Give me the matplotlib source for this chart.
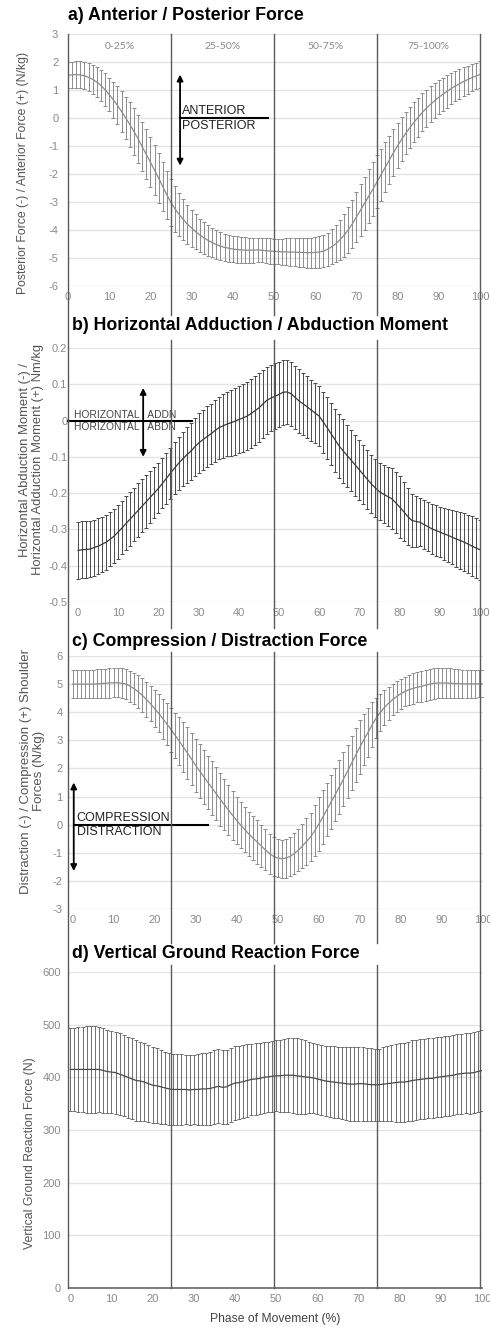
import matplotlib
matplotlib.use("Agg")
import matplotlib.pyplot as plt
from matplotlib.lines import Line2D
from matplotlib.transforms import blended_transform_factory

plt.rcParams['font.family'] = ['Liberation Sans', 'DejaVu Sans']
plt.rcParams['axes.unicode_minus'] = False

# phase of movement, 0..100 %
phase = list(range(101))
phase_bounds = [0, 25, 50, 75, 100]
phase_names = ['0-25%', '25-50%', '50-75%', '75-100%']
phase_centers = [12.5, 37.5, 62.5, 87.5]

# a) anterior / posterior force (N/kg)
ap_mean = [1.53, 1.54, 1.55, 1.54, 1.51, 1.45, 1.38, 1.28, 1.16, 1.01,
           0.84, 0.65, 0.45, 0.23, 0.00, -0.23, -0.48, -0.74, -1.02, -1.30,
           -1.58, -1.86, -2.15, -2.45, -2.75, -3.02, -3.25, -3.45, -3.63, -3.79,
           -3.93, -4.06, -4.18, -4.28, -4.37, -4.45, -4.52, -4.58, -4.62, -4.65,
           -4.68, -4.70, -4.71, -4.72, -4.72, -4.72, -4.71, -4.72, -4.74, -4.75,
           -4.76, -4.77, -4.78, -4.78, -4.79, -4.79, -4.80, -4.80, -4.81, -4.81,
           -4.80, -4.79, -4.75, -4.69, -4.60, -4.49, -4.35, -4.19, -4.00, -3.78,
           -3.54, -3.29, -3.04, -2.79, -2.54, -2.28, -2.02, -1.76, -1.50, -1.24,
           -0.99, -0.76, -0.54, -0.34, -0.15, 0.03, 0.20, 0.35, 0.49, 0.62,
           0.74, 0.85, 0.95, 1.05, 1.14, 1.22, 1.30, 1.37, 1.44, 1.50, 1.55]
ap_sd = [0.47, 0.47, 0.48, 0.48, 0.49, 0.50, 0.52, 0.54, 0.56, 0.58,
         0.60, 0.64, 0.68, 0.72, 0.76, 0.80, 0.83, 0.86, 0.88, 0.89,
         0.90, 0.90, 0.89, 0.88, 0.87, 0.85, 0.82, 0.78, 0.74, 0.70,
         0.66, 0.62, 0.59, 0.57, 0.55, 0.53, 0.51, 0.50, 0.49, 0.48,
         0.48, 0.47, 0.46, 0.46, 0.45, 0.45, 0.44, 0.44, 0.44, 0.45,
         0.45, 0.46, 0.47, 0.48, 0.49, 0.50, 0.51, 0.52, 0.53, 0.54,
         0.55, 0.56, 0.58, 0.60, 0.63, 0.67, 0.71, 0.76, 0.81, 0.86,
         0.90, 0.93, 0.95, 0.96, 0.96, 0.95, 0.93, 0.90, 0.87, 0.84,
         0.81, 0.78, 0.76, 0.74, 0.72, 0.70, 0.68, 0.66, 0.64, 0.62,
         0.60, 0.59, 0.58, 0.56, 0.55, 0.53, 0.52, 0.50, 0.49, 0.48, 0.47]

# b) horizontal adduction / abduction moment (Nm/kg)
ha_mean = [-0.358, -0.356, -0.355, -0.354, -0.350, -0.346, -0.341, -0.335, -0.327, -0.318,
           -0.307, -0.295, -0.283, -0.271, -0.259, -0.247, -0.235, -0.223, -0.211, -0.199,
           -0.187, -0.173, -0.159, -0.145, -0.131, -0.118, -0.106, -0.095, -0.085, -0.073,
           -0.062, -0.053, -0.045, -0.037, -0.028, -0.020, -0.015, -0.010, -0.006, -0.002,
           0.003, 0.007, 0.012, 0.019, 0.027, 0.035, 0.046, 0.056, 0.062, 0.067,
           0.072, 0.078, 0.079, 0.074, 0.064, 0.054, 0.046, 0.038, 0.029, 0.021,
           0.012, -0.004, -0.020, -0.037, -0.054, -0.071, -0.084, -0.097, -0.110, -0.123,
           -0.136, -0.149, -0.162, -0.175, -0.186, -0.196, -0.203, -0.209, -0.215, -0.226,
           -0.238, -0.251, -0.264, -0.275, -0.278, -0.280, -0.286, -0.292, -0.298, -0.303,
           -0.307, -0.312, -0.316, -0.321, -0.326, -0.330, -0.335, -0.340, -0.346, -0.351, -0.356]
ha_sd = [0.079, 0.079, 0.078, 0.078, 0.077, 0.077, 0.076, 0.076, 0.075, 0.075,
         0.074, 0.074, 0.074, 0.074, 0.074, 0.074, 0.073, 0.072, 0.071, 0.070,
         0.069, 0.069, 0.070, 0.070, 0.071, 0.072, 0.074, 0.076, 0.078, 0.080,
         0.082, 0.083, 0.084, 0.084, 0.085, 0.085, 0.087, 0.089, 0.091, 0.092,
         0.093, 0.094, 0.094, 0.095, 0.095, 0.095, 0.094, 0.093, 0.092, 0.091,
         0.090, 0.089, 0.088, 0.088, 0.087, 0.087, 0.086, 0.085, 0.084, 0.083,
         0.083, 0.084, 0.085, 0.086, 0.087, 0.088, 0.087, 0.086, 0.085, 0.084,
         0.083, 0.082, 0.081, 0.080, 0.079, 0.079, 0.080, 0.082, 0.083, 0.084,
         0.085, 0.082, 0.078, 0.074, 0.070, 0.067, 0.067, 0.068, 0.069, 0.070,
         0.070, 0.071, 0.073, 0.075, 0.077, 0.079, 0.080, 0.081, 0.082, 0.083, 0.083]

# c) compression / distraction force (N/kg)
cd_mean = [5.00, 5.00, 5.00, 5.00, 5.00, 5.00, 5.01, 5.02, 5.03, 5.04,
           5.05, 5.05, 5.03, 5.00, 4.93, 4.84, 4.73, 4.60, 4.46, 4.30,
           4.13, 3.96, 3.77, 3.58, 3.38, 3.18, 2.97, 2.76, 2.55, 2.33,
           2.11, 1.90, 1.70, 1.50, 1.30, 1.10, 0.90, 0.71, 0.52, 0.33,
           0.15, -0.02, -0.18, -0.34, -0.48, -0.62, -0.76, -0.90, -1.03, -1.13,
           -1.19, -1.21, -1.19, -1.13, -1.03, -0.91, -0.76, -0.60, -0.43, -0.22,
           0.02, 0.28, 0.54, 0.81, 1.07, 1.34, 1.62, 1.90, 2.19, 2.48,
           2.76, 3.03, 3.29, 3.55, 3.80, 4.00, 4.17, 4.32, 4.45, 4.56,
           4.66, 4.74, 4.80, 4.85, 4.89, 4.92, 4.96, 5.00, 5.03, 5.04,
           5.04, 5.04, 5.03, 5.02, 5.02, 5.01, 5.01, 5.01, 5.01, 5.01, 5.01]
cd_sd = [0.50, 0.50, 0.50, 0.50, 0.50, 0.50, 0.51, 0.51, 0.52, 0.52,
         0.52, 0.52, 0.53, 0.54, 0.55, 0.56, 0.58, 0.60, 0.62, 0.63,
         0.65, 0.68, 0.71, 0.74, 0.78, 0.81, 0.85, 0.88, 0.91, 0.93,
         0.95, 0.96, 0.96, 0.96, 0.95, 0.95, 0.93, 0.91, 0.89, 0.86,
         0.83, 0.82, 0.81, 0.79, 0.78, 0.77, 0.75, 0.73, 0.71, 0.70,
         0.68, 0.68, 0.69, 0.70, 0.72, 0.75, 0.78, 0.82, 0.86, 0.91,
         0.95, 0.96, 0.96, 0.96, 0.95, 0.95, 0.95, 0.95, 0.95, 0.95,
         0.95, 0.92, 0.87, 0.80, 0.72, 0.66, 0.62, 0.59, 0.56, 0.55,
         0.53, 0.53, 0.53, 0.54, 0.54, 0.55, 0.55, 0.55, 0.55, 0.55,
         0.55, 0.54, 0.53, 0.52, 0.51, 0.50, 0.50, 0.49, 0.49, 0.48, 0.48]

# d) vertical ground reaction force (N)
vg_mean = [415, 415, 415, 415, 415, 415, 415, 415, 413, 411,
           410, 409, 406, 403, 400, 397, 394, 393, 391, 388,
           385, 384, 382, 380, 378, 377, 377, 377, 377, 376,
           377, 377, 378, 378, 379, 381, 383, 381, 382, 386,
           389, 390, 392, 394, 396, 397, 398, 400, 401, 402,
           403, 403, 404, 404, 404, 403, 402, 401, 400, 399,
           397, 395, 393, 392, 391, 390, 389, 388, 387, 387,
           388, 388, 387, 386, 386, 386, 387, 388, 389, 390,
           391, 391, 392, 394, 395, 396, 397, 398, 398, 400,
           401, 402, 403, 404, 406, 407, 408, 408, 409, 411, 413]
vg_sd = [78, 79, 80, 81, 82, 83, 82, 81, 80, 79,
         78, 78, 78, 77, 77, 77, 76, 75, 74, 73,
         72, 71, 70, 69, 68, 67, 67, 67, 66, 66,
         66, 67, 68, 69, 70, 70, 70, 70, 70, 70,
         70, 70, 69, 69, 68, 68, 68, 68, 67, 67,
         67, 68, 69, 70, 71, 72, 71, 70, 68, 67,
         66, 66, 67, 67, 68, 68, 69, 69, 70, 70,
         70, 70, 69, 69, 68, 68, 70, 71, 72, 74,
         75, 75, 75, 76, 76, 76, 76, 76, 76, 76,
         76, 76, 76, 76, 76, 76, 76, 77, 77, 77, 77]

W, H = 490, 1327
fig = plt.figure(figsize=(W / 100, H / 100), dpi=100)


def box(left, right, top, bottom):
    return [left / W, 1 - bottom / H, (right - left) / W, (bottom - top) / H]


ax_a = fig.add_axes(box(68, 480, 34, 286))
ax_b = fig.add_axes(box(68, 480, 348, 602))
ax_c = fig.add_axes(box(68, 483, 656, 909))
ax_d = fig.add_axes(box(69, 482, 972, 1288))

panels = [
    (ax_a, ap_mean, ap_sd, (0, 100), (-6, 3), list(range(-6, 4)), None, 7,
     '#8c8c8c', '#8c8c8c', 'a) Anterior / Posterior Force', 68, 16,
     'Posterior Force (-) / Anterior Force (+) (N/kg)', 8.8, -0.11, 0.45),
    (ax_b, ha_mean, ha_sd, (-2.5, 100), (-0.5, 0.2),
     [-0.5, -0.4, -0.3, -0.2, -0.1, 0, 0.1, 0.2],
     ['-0.5', '-0.4', '-0.3', '-0.2', '-0.1', '0', '0.1', '0.2'], 0.5,
     '#4a4a4a', '#3a3a3a', 'b) Horizontal Adduction / Abduction Moment', 72, 326,
     'Horizontal Abduction Moment (-) /\nHorizontal Adduction Moment (+) Nm/kg', 9.4, -0.088, 0.56),
    (ax_c, cd_mean, cd_sd, (-1.1, 100), (-3, 6), list(range(-3, 7)), None, 4,
     '#8c8c8c', '#8c8c8c', 'c) Compression / Distraction Force', 72, 642,
     'Distraction (-) / Compression (+) Shoulder\nForces (N/kg)', 9.5, -0.085, 0.545),
    (ax_d, vg_mean, vg_sd, (-0.3, 100), (0, 600), list(range(0, 700, 100)), None, 6,
     '#6e6e6e', '#4a4a4a', 'd) Vertical Ground Reaction Force', 72, 953,
     'Vertical Ground Reaction Force (N)', 8.8, -0.095, 0.427),
]

for (ax, mean, sd, xlim, ylim, yticks, ylabels, ypad, ecol, lcol,
     title, tx, ty, ylab, ylab_size, ylab_x, ylab_y) in panels:
    ax.errorbar(phase, mean, yerr=sd, color=lcol, lw=0.9, ecolor=ecol,
                elinewidth=0.7, capsize=1.4, capthick=0.7, zorder=3)
    ax.set_xlim(*xlim)
    ax.set_ylim(*ylim)
    ax.set_yticks(yticks)
    if ylabels:
        ax.set_yticklabels(ylabels)
    ax.set_xticks(range(0, 101, 10))
    ax.grid(axis='y', color='#e4e4e4', lw=1.0)
    ax.set_axisbelow(True)
    for s in ax.spines.values():
        s.set_visible(False)
    ax.tick_params(axis='both', length=0, labelsize=8, labelcolor='#8a8a8a')
    ax.tick_params(axis='y', pad=ypad)
    ax.tick_params(axis='x', pad=4)
    ax.patch.set_alpha(0)
    fig.text(tx / W, 1 - ty / H, title, fontsize=12.8, fontweight='bold',
             ha='left', va='center', color='#000000')
    ax.text(ylab_x, ylab_y, ylab, transform=ax.transAxes, rotation=90,
            ha='center', va='center', fontsize=ylab_size, color='#555555',
            multialignment='center', linespacing=1.1)

# bottom axis of the last panel
ax_d.spines['bottom'].set_visible(True)
ax_d.spines['bottom'].set_color('#666666')
ax_d.spines['bottom'].set_linewidth(1.2)
ax_d.set_xlabel('Phase of Movement (%)', fontsize=8.7, color='#444444', labelpad=7)

# phase boundary lines running through all panels (x from panel a)
trans = blended_transform_factory(ax_a.transData, fig.transFigure)
segments = [(34, 315), (340, 628), (652, 943), (965, 1288)]
for xb in phase_bounds:
    if xb in (0, 100):
        spans = [(34, 1288)]
    else:
        spans = segments
    for top, bot in spans:
        fig.add_artist(Line2D([xb, xb], [1 - top / H, 1 - bot / H], transform=trans,
                              color='#5a5a5a', lw=1.0, zorder=5))

# phase labels in panel a
for xc, name in zip(phase_centers, phase_names):
    ax_a.text(xc, 2.55, name, ha='center', va='center', fontsize=7.5,
              color='#8a8a8a', family=['Lato', 'DejaVu Sans'])

arrow = dict(arrowstyle='<|-|>', color='black', lw=1.3, mutation_scale=9,
             shrinkA=0, shrinkB=0)

# a) annotation
ax_a.annotate('', xy=(27.2, 1.55), xytext=(27.2, -1.7), arrowprops=arrow, zorder=6)
ax_a.plot([27.2, 48.5], [0, 0], color='black', lw=1.5, zorder=6)
ax_a.text(27.7, 0.03, 'ANTERIOR', fontsize=9, color='#222222', va='bottom', ha='left')
ax_a.text(27.7, -0.06, 'POSTERIOR', fontsize=9, color='#222222', va='top', ha='left')

# b) annotation
ax_b.annotate('', xy=(16.2, 0.09), xytext=(16.2, -0.1), arrowprops=arrow, zorder=6)
ax_b.plot([-2.5, 28.4], [0, 0], color='black', lw=1.5, zorder=6, clip_on=False)
ax_b.text(-1, 0.002, 'HORIZONTAL   ADDN', fontsize=7.4, color='#444444', va='bottom', ha='left')
ax_b.text(-1, -0.004, 'HORIZONTAL   ABDN', fontsize=7.4, color='#444444', va='top', ha='left')

# c) annotation
ax_c.annotate('', xy=(0.3, 1.5), xytext=(0.3, -1.65), arrowprops=arrow, zorder=6)
ax_c.plot([0.3, 33], [0, 0], color='black', lw=1.5, zorder=6)
ax_c.text(1.0, 0.03, 'COMPRESSION', fontsize=9, color='#222222', va='bottom', ha='left')
ax_c.text(1.0, -0.06, 'DISTRACTION', fontsize=9, color='#222222', va='top', ha='left')

plt.savefig('out.png', dpi=100)
